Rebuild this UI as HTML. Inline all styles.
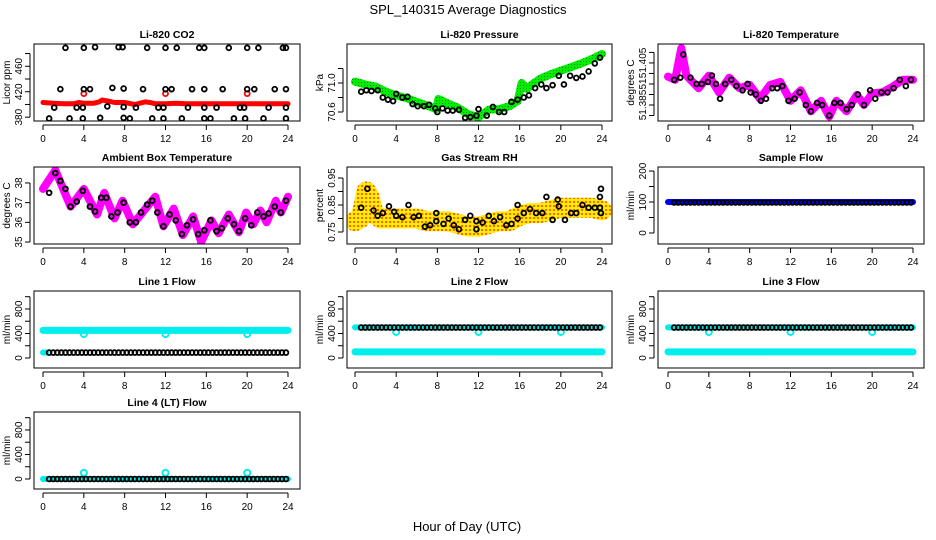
<!DOCTYPE html>
<html><head><meta charset="utf-8"><style>
body{margin:0;background:#fff;}
svg{display:block;font-family:"Liberation Sans",sans-serif;}
</style></head><body>
<svg id="chart" width="936" height="540" viewBox="0 0 936 540">
<defs>
<pattern id="rhPat" width="4" height="4" patternUnits="userSpaceOnUse"><rect width="4" height="4" fill="#ffee00"/><circle cx="2" cy="2" r="1.1" fill="#ff5500"/></pattern>
<pattern id="prPat" width="3" height="3" patternUnits="userSpaceOnUse"><rect width="3" height="3" fill="#00ee00"/><circle cx="1.5" cy="1.5" r="0.5" fill="#006600"/></pattern>
</defs>
<text x="468" y="14" text-anchor="middle" font-size="13">SPL_140315  Average Diagnostics</text>
<text x="467" y="531" text-anchor="middle" font-size="13">Hour of Day (UTC)</text>
</svg>
<script>
// ---- data ----
const xTicks = [0,4,8,12,16,20,24];
const co2RedT = [0,1,2,3,3.5,4,5,5.5,5.8,6.5,7,8,9,9.5,10,10.5,11,12,13,14,16,18,20,22,24];
const co2RedV = [403,402,401,401,403,402,402,404,407,405,403,403,400,402,404,403,401,401,402,401,401,401,401,401,401];
const co2RedDotT = [4,12,20];
const co2RedDotV = [417,417,417];
const co2BlackT = [2.2,4,5.1,7.4,7.8,10.2,12,13.1,15.3,15.8,18.2,20,21.1,23.5,23.8, 1.7,4,4.6,6.8,7.9,9.8,12,12.6,14.6,15.8,17.6,20,20.7,22.7,23.8, 1.1,3.3,3.9,6.3,7.9,9.1,11.3,11.8,14.2,15.8,17,19.3,19.7,22.1,23.8, 0.6,2.6,3.9,5.6,7.9,8.5,10.7,11.8,13.6,15.8,16.4,18.7,19.8,21.6,23.8];
const co2BlackV = [489,489,490,490,490,489,489,489,489,489,489,489,489,489,489, 424,424,424,426,425,424,424,424,424,424,424,424,424,424,424, 395,395,395,397,396,395,395,395,395,395,395,395,395,395,395, 378,378,378,379,379,378,378,378,378,378,378,378,378,378,378];
const co2TickV = [380,400,420,440,460,480];
const co2TickL = ["380","","420","","460",""];

const prT = [0,0.5,1,2,3,4,5,6,7,7.9,8.1,9,10,11,12,12.5,13,14,15,15.8,16.2,16.7,17,18,19,20,21,22,23,24];
const prV = [71.02,71.0,70.98,70.95,70.88,70.83,70.79,70.74,70.69,70.64,70.78,70.72,70.66,70.57,70.53,70.58,70.63,70.64,70.68,70.75,71.0,70.92,70.96,71.06,71.12,71.17,71.22,71.27,71.33,71.4];
const prBlackT = [0.6,1.1,1.6,2.2,2.7,3.2,3.7,4,4.6,5.1,5.6,6.1,6.7,7.2,7.8,8,8.5,9,9.5,10.1,10.7,11.2,11.8,12,12.8,13.4,14,14.5,15.2,15.8,16.4,16.9,17.5,18.1,18.6,19.2,19.8,20.3,20.9,21.5,22.1,22.7,23.3,23.8];
const prBlackV = [70.88,70.9,70.89,70.9,70.8,70.77,70.75,70.85,70.8,70.81,70.71,70.68,70.68,70.7,70.65,70.6,70.65,70.62,70.62,70.63,70.52,70.53,70.55,70.64,70.55,70.67,70.6,70.6,70.74,70.77,70.8,70.83,70.93,70.98,70.93,70.97,71.1,70.98,71.1,71.07,71.09,71.16,71.27,71.35];
const prTickV = [70.6,70.8,71.0,71.2];
const prTickL = ["70.6","","71.0",""];

const tmT = [0,0.7,1.3,1.8,3,4,5,6,7,8,9,10,11,12,13,14,15,15.8,16.5,17.5,18.5,19.2,20,21,22,23,24];
const tmV = [51.3985,51.397,51.412,51.399,51.393,51.399,51.391,51.398,51.393,51.3945,51.388,51.3945,51.396,51.387,51.392,51.382,51.387,51.3795,51.387,51.382,51.3898,51.385,51.3905,51.391,51.3937,51.397,51.397];
const tmBlackT = [0.6,1.2,1.5,2.2,2.8,3.3,3.9,4.3,4.7,5.1,5.6,6.2,6.7,7.3,7.8,8.1,8.6,9.1,9.6,10.2,10.7,11.2,11.8,12.4,12.9,13.5,14,14.6,15.1,15.8,16.3,16.9,17.5,18,18.6,19.2,19.8,20.3,20.9,21.5,22.1,22.7,23.3,23.8];
const tmBlackV = [51.397,51.398,51.409,51.398,51.395,51.395,51.396,51.399,51.395,51.388,51.395,51.397,51.394,51.392,51.395,51.391,51.39,51.387,51.388,51.393,51.393,51.394,51.387,51.388,51.391,51.385,51.382,51.386,51.385,51.38,51.386,51.386,51.383,51.385,51.39,51.385,51.392,51.388,51.391,51.391,51.393,51.397,51.394,51.397];
const tmTickV = [51.38,51.385,51.39,51.395,51.4,51.405,51.41];
const tmLabV = [51.405,51.395,51.385];
const tmLabL = ["51.405","51","51.385"];

const abT = [0,1.2,2.7,4,5.3,6,7,7.8,8.8,11,11.8,12.8,13.7,14.7,15.5,16.5,17.2,18.2,19.2,19.9,20.6,21.3,21.9,22.8,23.3,24];
const abV = [37.7,38.65,36.8,37.7,36.4,37.5,36.2,37.1,35.9,37.3,35.8,36.7,35.35,36.3,35.0,36.1,35.45,36.4,35.5,36.5,35.9,36.6,36.0,37.1,36.5,37.3];
const abBlackT = [0.6,1.2,1.7,2.2,2.7,3.3,3.9,4.6,5.1,5.7,6.2,6.7,7.3,7.9,8.5,9.1,9.6,10.2,10.7,11.2,11.8,12.4,13,13.6,14.1,14.7,15.2,15.8,16.4,17,17.5,18.1,18.7,19.2,19.8,20.4,21,21.6,22.1,22.7,23.3,23.8];
const abBlackV = [37.5,38.5,38.1,37.7,36.8,37.05,37.6,36.8,36.55,37.25,37.25,36.3,36.5,37.0,36.0,36.0,36.5,36.9,37.1,36.5,35.8,36.4,36.1,35.4,35.85,36.15,35.4,35.6,36.1,35.55,35.7,36.2,35.9,35.55,36.2,35.85,36.5,36.3,36.45,36.8,36.5,37.1];
const abTickV = [35,36,37,38];
const abTickL = ["35","36","37","38"];

const rhT = [0,0.5,0.8,1.1,1.4,1.8,2.5,3,4,5,6,7,8,9,10,11,12,13,14,15,16,17,18,19,20,21,22,23,24];
const rhV = [0.79,0.8,0.84,0.9,0.88,0.82,0.8,0.8,0.8,0.8,0.8,0.79,0.79,0.79,0.78,0.77,0.77,0.78,0.79,0.79,0.81,0.82,0.82,0.83,0.84,0.84,0.84,0.84,0.83];
const rhBlackT = [0.6,1.2,1.8,2.2,2.7,3.3,3.8,4,4.6,5.2,5.7,6.2,6.8,7.3,7.9,7.9,8.6,9.1,9.6,10.1,10.7,11.2,11.8,11.8,12.4,13,13.5,14.1,14.7,15.2,15.8,15.8,16.4,17,17.6,18.2,18.6,19.2,19.7,19.8,20.4,21,21.5,22.1,22.7,23.3,23.8,23.8,23.9,23.9];
const rhBlackV = [0.84,0.91,0.83,0.81,0.82,0.845,0.825,0.81,0.805,0.85,0.805,0.81,0.77,0.775,0.79,0.82,0.78,0.8,0.775,0.76,0.795,0.81,0.76,0.79,0.785,0.81,0.79,0.805,0.775,0.78,0.8,0.85,0.82,0.835,0.82,0.82,0.88,0.795,0.87,0.845,0.795,0.82,0.82,0.85,0.84,0.84,0.84,0.88,0.91,0.82];
const rhTickV = [0.75,0.8,0.85,0.9,0.95];
const rhTickL = ["0.75","","0.85","","0.95"];

const flowT = [0.6,1.0,1.4,1.8,2.2,2.6,3.0,3.4,3.8,4.2,4.6,5.0,5.4,5.8,6.2,6.6,7.0,7.4,7.8,8.2,8.6,9.0,9.4,9.8,10.2,10.6,11.0,11.4,11.8,12.2,12.6,13.0,13.4,13.8,14.2,14.6,15.0,15.4,15.8,16.2,16.6,17.0,17.4,17.8,18.2,18.6,19.0,19.4,19.8,20.2,20.6,21.0,21.4,21.8,22.2,22.6,23.0,23.4,23.8];
const bandT = [0,24];
const sfBandV = [100,100];
const sfBlackV = 98;
const sfTickV = [0,50,100,150,200];
const sfTickL = ["0","","100","","200"];
const l1HighV = [450,450];
const l1LowT = [0,0.3];
const l1LowV = [90,90];
const l1BlackV = 88;
const l1DipT = [4,12,20];
const l1DipV = [390,390,390];
const l2LowV = [100,100];
const l2HighV = [500,500];
const l2BlackV = 497;
const l2DipT = [4,12,20];
const l2DipV = [425,425,425];
const l4BandV = [0,0];
const l4BlackV = 0;
const l4DipT = [4,12,20];
const l4DipV = [100,100,100];
const flTickV = [0,200,400,600,800,1000];
const flTickL = ["0","","400","","800",""];

// ---- layout ----
const NS = "http://www.w3.org/2000/svg";
const svg = document.getElementById('chart');
const cols = [{l:34,r:300,x0:43,x24:288},{l:347,r:612,x0:355,x24:602},{l:658,r:924,x0:668,x24:913}];
const rows = [44,167,291,412];
const H = 77;
function mk(tag, attrs, parent){ const e=document.createElementNS(NS,tag); for(const k in attrs) e.setAttribute(k,attrs[k]); (parent||svg).appendChild(e); return e; }

function makePanel(name, col, row, lo, hi, title, ylab){
  const c = cols[col], top = rows[row], bot = top+H;
  const g = mk('g',{});
  
  
  const xs = h => c.x0 + (c.x24-c.x0)*h/24;
  const ys = v => bot - (v-lo)/(hi-lo)*H;
  const clip = mk('clipPath',{id:'clip-'+name}, g);
  mk('rect',{x:c.l,y:top,width:c.r-c.l,height:H}, clip);
  const plot = mk('g',{'clip-path':'url(#clip-'+name+')'}, g);
  
  
  const box = mk('rect',{x:c.l,y:top,width:c.r-c.l,height:H,fill:'none',stroke:'#000','stroke-width':1}, g);
  
  
  const t = mk('text',{x:(c.l+c.r)/2,y:top-6,'text-anchor':'middle','font-size':10.5,'font-weight':'bold'}, g);
  t.textContent = title;
  
  
  const xa = mk('g',{}, g);
  
  
  mk('line',{x1:xs(xTicks[0]),x2:xs(xTicks[xTicks.length-1]),y1:bot+4,y2:bot+4,stroke:'#000'}, xa);
  xTicks.forEach(h=>{
    mk('line',{x1:xs(h),x2:xs(h),y1:bot+4,y2:bot+9,stroke:'#000'}, xa);
    const tl = mk('text',{x:xs(h),y:bot+21,'text-anchor':'middle','font-size':10}, xa);
    tl.textContent = String(h);
  });
  const yl = mk('text',{transform:`translate(${c.l-24},${(top+bot)/2}) rotate(-90)`,'text-anchor':'middle','font-size':10}, g);
  yl.textContent = ylab;
  
  
  return {g, plot, xs, ys, c, top, bot};
}
function yAxis(p, tickV, labV, labL){
  const ya = mk('g',{}, p.g);
  
  
  const x = p.c.l-4;
  mk('line',{x1:x,x2:x,y1:p.ys(tickV[0]),y2:p.ys(tickV[tickV.length-1]),stroke:'#000'}, ya);
  tickV.forEach(v=> mk('line',{x1:x-5,x2:x,y1:p.ys(v),y2:p.ys(v),stroke:'#000'}, ya));
  labV.forEach((v,i)=>{ if(!labL[i]) return;
    const t = mk('text',{transform:`translate(${x-8},${p.ys(v)}) rotate(-90)`,'text-anchor':'middle','font-size':10}, ya);
    t.textContent = labL[i];
  });
}
function band(p, T, V, color, w, name){
  const pts = T.map((h,i)=>p.xs(h).toFixed(1)+','+p.ys(V[i]).toFixed(1)).join(' ');
  const e = mk('polyline',{points:pts,fill:'none',stroke:color,'stroke-width':w,'stroke-linejoin':'round','stroke-linecap':'round'}, p.plot);
  
  
}
function points(p, T, V, color, r, sw, name){
  const g = mk('g',{}, p.plot);
  
  
  T.forEach((h,i)=>{
    const v = Array.isArray(V) ? V[i] : V;
    mk('circle',{cx:p.xs(h),cy:p.ys(v),r:r,fill:'none',stroke:color,'stroke-width':sw}, g);
  });
}

let p = makePanel('co2',0,0,374,495,'Li-820 CO2','Licor ppm');
yAxis(p, co2TickV, co2TickV, co2TickL);
band(p, co2RedT, co2RedV, '#ff0000', 5, 'co2-red-series');
points(p, co2RedDotT, co2RedDotV, '#ff0000', 2.5, 1.8, 'co2-red-points');
points(p, co2BlackT, co2BlackV, '#000', 2.4, 1.8, 'co2-black-points');

p = makePanel('pressure',1,0,70.476,71.538,'Li-820 Pressure','kPa');
yAxis(p, prTickV, prTickV, prTickL);
band(p, prT, prV, 'url(#prPat)', 8, 'pressure-green-series');
points(p, prBlackT, prBlackV, '#000', 2.4, 1.8, 'pressure-black-points');

p = makePanel('licor-temp',2,0,51.3774,51.414,'Li-820 Temperature','degrees C');
yAxis(p, tmTickV, tmLabV, tmLabL);
band(p, tmT, tmV, '#ff00ff', 8, 'licor-temp-magenta-series');
points(p, tmBlackT, tmBlackV, '#000', 2.4, 1.8, 'licor-temp-black-points');

p = makePanel('ambient',0,1,34.9,38.81,'Ambient Box Temperature','degrees C');
yAxis(p, abTickV, abTickV, abTickL);
band(p, abT, abV, '#ff00ff', 8, 'ambient-magenta-series');
points(p, abBlackT, abBlackV, '#000', 2.4, 1.9, 'ambient-black-points');

p = makePanel('rh',1,1,0.7056,0.9907,'Gas Stream RH','percent');
yAxis(p, rhTickV, rhTickV, rhTickL);
band(p, rhT, rhV, 'url(#rhPat)', 20, 'rh-yellow-series');
points(p, rhBlackT, rhBlackV, '#000', 2.4, 1.8, 'rh-black-points');

p = makePanel('sample-flow',2,1,-35.5,213,'Sample Flow','ml/min');
yAxis(p, sfTickV, sfTickV, sfTickL);
band(p, bandT, sfBandV, '#0000ee', 6, 'sample-flow-blue-series');
points(p, flowT, sfBlackV, '#000', 2.3, 1.7, 'sample-flow-black-points');

p = makePanel('line1-flow',0,2,-163,1093,'Line 1 Flow','ml/min');
yAxis(p, flTickV, flTickV, flTickL);
band(p, bandT, l1HighV, '#00eeee', 7, 'line1-cyan-high');
band(p, l1LowT, l1LowV, '#00eeee', 6, 'line1-cyan-low');
points(p, l1DipT, l1DipV, '#00eeee', 3, 2, 'line1-cyan-dips');
points(p, flowT, l1BlackV, '#000', 2.4, 1.8, 'line1-black-points');

p = makePanel('line2-flow',1,2,-163,1093,'Line 2 Flow','ml/min');
yAxis(p, flTickV, flTickV, flTickL);
band(p, bandT, l2LowV, '#00eeee', 7, 'line2-cyan-low');
band(p, bandT, l2HighV, '#00eeee', 6, 'line2-cyan-high');
points(p, l2DipT, l2DipV, '#00eeee', 3, 2, 'line2-cyan-dips');
points(p, flowT, l2BlackV, '#000', 2.4, 1.8, 'line2-black-points');

p = makePanel('line3-flow',2,2,-163,1093,'Line 3 Flow','ml/min');
yAxis(p, flTickV, flTickV, flTickL);
band(p, bandT, l2LowV, '#00eeee', 7, 'line3-cyan-low');
band(p, bandT, l2HighV, '#00eeee', 6, 'line3-cyan-high');
points(p, l2DipT, l2DipV, '#00eeee', 3, 2, 'line3-cyan-dips');
points(p, flowT, l2BlackV, '#000', 2.4, 1.8, 'line3-black-points');

p = makePanel('line4-flow',0,3,-163,1093,'Line 4 (LT) Flow','ml/min');
yAxis(p, flTickV, flTickV, flTickL);
band(p, bandT, l4BandV, '#00eeee', 6, 'line4-cyan-series');
points(p, l4DipT, l4DipV, '#00eeee', 3, 2, 'line4-cyan-dips');
points(p, flowT, l4BlackV, '#000', 2.4, 1.8, 'line4-black-points');
</script>
</body></html>
